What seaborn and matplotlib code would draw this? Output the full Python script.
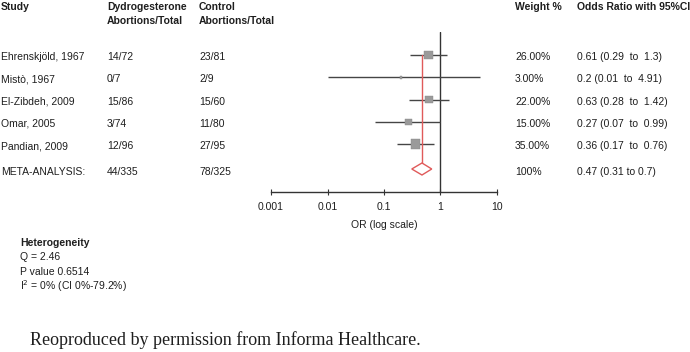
import numpy as np
import pandas as pd
import matplotlib
matplotlib.use("Agg")
import matplotlib.pyplot as plt
import matplotlib.transforms as mtransforms
import seaborn as sns

# ---------------- data ----------------
studies = ["Ehrenskjöld, 1967", "Mistò, 1967", "El-Zibdeh, 2009", "Omar, 2005", "Pandian, 2009"]
dydro = ["14/72", "0/7", "15/86", "3/74", "12/96"]
control = ["23/81", "2/9", "15/60", "11/80", "27/95"]
weights = [26.0, 3.0, 22.0, 15.0, 35.0]
odds = [0.61, 0.2, 0.63, 0.27, 0.36]
ci_low = [0.29, 0.01, 0.28, 0.07, 0.17]
ci_high = [1.3, 4.91, 1.42, 0.99, 0.76]
or_text = ["0.61 (0.29  to  1.3)", "0.2 (0.01  to  4.91)", "0.63 (0.28  to  1.42)",
           "0.27 (0.07  to  0.99)", "0.36 (0.17  to  0.76)"]
weight_text = ["26.00%", "3.00%", "22.00%", "15.00%", "35.00%"]

meta_label = "META-ANALYSIS:"
meta_dydro = "44/335"
meta_control = "78/325"
meta_weight = "100%"
meta_or, meta_lo, meta_hi = 0.47, 0.31, 0.7
meta_text = "0.47 (0.31 to 0.7)"

xticks = [0.001, 0.01, 0.1, 1, 10]
xtick_labels = ["0.001", "0.01", "0.1", "1", "10"]
hetero_lines = ["Q = 2.46", "P value 0.6514", "I$^2$ = 0% (CI 0%-79.2%)"]

# ---------------- style ----------------
sns.set_style("white")
plt.rcParams["font.family"] = ["Liberation Sans", "DejaVu Sans"]
FS = 7.5
TXT = "#1e1e1e"
RED = "#e05a5a"

W, H = 690, 352
fig = plt.figure(figsize=(W / 100, H / 100), dpi=100)

def fx(px):
    return px / W

def fy(py):
    return 1 - py / H

# axes spanning the log OR scale
ax_left, ax_right, ax_top, ax_bot = 271, 497, 32, 192
ax = fig.add_axes([fx(ax_left), fy(ax_bot), fx(ax_right - ax_left), (ax_bot - ax_top) / H])

row_step = 22.25
row0 = 55
rows = np.arange(len(studies)).astype(float)
meta_row = (169 - row0) / row_step
ax.set_ylim((ax_bot - row0) / row_step, (ax_top - row0) / row_step)
ax.set_xscale("log")
ax.set_xlim(xticks[0], xticks[-1])

df = pd.DataFrame({"study": studies, "odds": odds, "lo": ci_low, "hi": ci_high,
                   "weight": weights, "row": rows})

# CI lines
ax.hlines(df["row"], df["lo"], df["hi"], color="#454545", lw=1.0, zorder=2)
# reference line at OR = 1
ax.axvline(1, color="#333333", lw=1.0, zorder=1)
# pooled estimate line
half_h = 0.27
ax.plot([meta_or, meta_or], [rows[0], meta_row - half_h], color=RED, lw=1.0, zorder=3)
# squares
sns.scatterplot(data=df, x="odds", y="row", size="weight", sizes=(3 * 1.4, 35 * 1.4),
                size_norm=(3, 35), marker="s", color="#9a9a9a", edgecolor="#8a8a8a",
                linewidth=0.3, legend=False, ax=ax, zorder=4)
# diamond
ax.fill([meta_lo, meta_or, meta_hi, meta_or], [meta_row, meta_row - half_h, meta_row, meta_row + half_h],
        facecolor="white", edgecolor=RED, lw=1.0, zorder=4)

for s in ["left", "right", "top"]:
    ax.spines[s].set_visible(False)
ax.spines["bottom"].set_color("#333333")
ax.spines["bottom"].set_linewidth(1.0)
ax.set_yticks([])
ax.set_xticks(xticks)
ax.set_xticklabels(xtick_labels)
ax.xaxis.set_minor_locator(matplotlib.ticker.NullLocator())
ax.tick_params(axis="x", direction="inout", length=4, width=0.8, color="#333333",
               labelsize=FS, labelcolor=TXT, pad=5, bottom=True)
ax.set_xlabel("OR (log scale)", fontsize=FS, color=TXT, labelpad=6)
ax.set_ylabel("")
ax.patch.set_alpha(0)

# text columns: x in figure, y in data rows
trans = mtransforms.blended_transform_factory(fig.transFigure, ax.transData)
col_study, col_d, col_c, col_w, col_or = 1, 107, 199, 515, 577
for r, a, b, c, w, o in zip(rows, studies, dydro, control, weight_text, or_text):
    y = r + 0.1
    for xpos, t in [(col_study, a), (col_d, b), (col_c, c), (col_w, w), (col_or, o)]:
        fig.text(fx(xpos), y, t, transform=trans, fontsize=FS, color=TXT, va="center", ha="left")
ym = meta_row + 0.14
for xpos, t in [(col_study, meta_label), (col_d, meta_dydro), (col_c, meta_control),
                (col_w, meta_weight), (col_or, meta_text)]:
    fig.text(fx(xpos), ym, t, transform=trans, fontsize=FS, color=TXT, va="center", ha="left")

# headers
hdr = dict(fontsize=FS, color=TXT, fontweight="bold", va="center", ha="left")
fig.text(fx(col_study), fy(7), "Study", **hdr)
fig.text(fx(col_d), fy(7), "Dydrogesterone", **hdr)
fig.text(fx(col_d), fy(21), "Abortions/Total", **hdr)
fig.text(fx(col_c), fy(7), "Control", **hdr)
fig.text(fx(col_c), fy(21), "Abortions/Total", **hdr)
fig.text(fx(col_w), fy(7), "Weight %", **hdr)
fig.text(fx(col_or), fy(7), "Odds Ratio with 95%CI", **hdr)

# heterogeneity block
fig.text(fx(20), fy(243), "Heterogeneity", fontsize=FS, color=TXT, fontweight="bold", va="center", ha="left")
for i, line in enumerate(hetero_lines):
    fig.text(fx(20), fy(257.5 + 14.5 * i), line, fontsize=FS, color=TXT, va="center", ha="left")

# footnote
fig.text(fx(30), fy(340), "Reoproduced by permission from Informa Healthcare.",
         fontsize=13, color=TXT, va="center", ha="left", family=["Liberation Serif", "DejaVu Serif"])

fig.savefig("out.png", dpi=100, facecolor="white")
